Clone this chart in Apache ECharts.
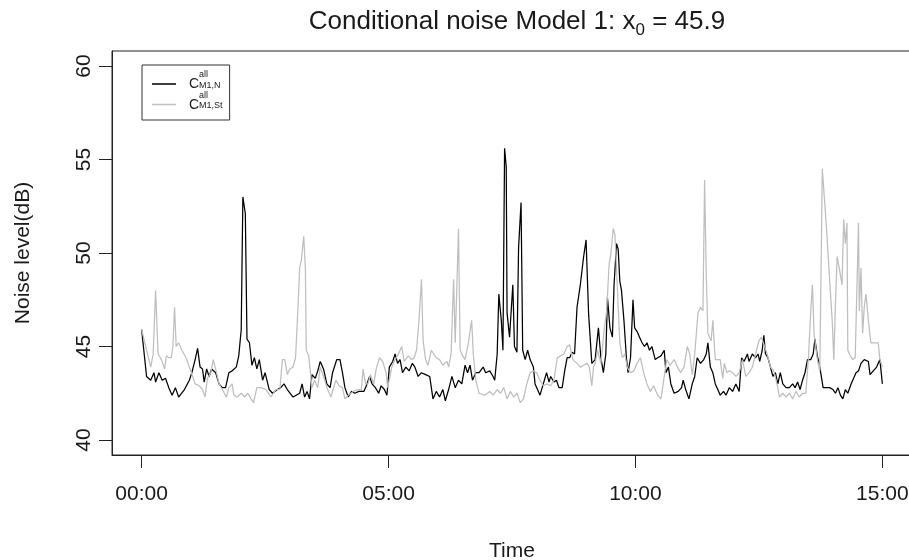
<!DOCTYPE html>
<html><head><meta charset="utf-8">
<script src="https://cdn.jsdelivr.net/npm/echarts@6/dist/echarts.min.js"></script>
<style>html,body{margin:0;padding:0;background:#fff}#c{width:909px;height:560px}</style>
</head><body><div id="c"></div>
<script>
// time in minutes since 00:00
const nTime = [0,6,11,15,17,21,25,29,33,37,
41,45,52,58,61,65,68,71,74,76,
79,82,85,90,94,98,102,106,110,115,
118,121,123,126,128,131,134,137,140,143,
147,150,155,159,165,169,173,177,184,192,
195,198,201,204,207,211,214,217,221,225,
229,232,237,241,244,247,251,255,259,264,
270,273,277,280,284,288,291,295,298,301,
305,308,311,314,317,321,325,329,332,336,
340,345,350,354,358,362,366,369,373,377,
381,385,389,393,396,399,402,406,410,415,
418,423,427,429,432,434,437,439,441,443,
444,447,451,453,456,458,461,463,466,469,
472,476,478,481,484,488,492,495,497,501,
504,507,511,514,517,520,523,526,529,533,
537,540,543,547,551,555,558,561,564,566,
569,572,574,577,579,581,583,586,589,591,
594,597,599,602,605,608,611,614,617,620,
624,627,631,635,637,640,643,647,652,656,
658,661,665,669,672,675,679,683,686,688,
691,694,697,700,703,707,710,714,718,722,
726,729,732,736,738,742,746,749,751,754,
756,758,761,764,767,770,773,776,779,783,
787,791,794,797,800,803,806,809,813,816,
818,821,824,828,832,836,840,843,846,849,
852,855,858,862,866,868,871,874,878,883,
885,889,893,897,900];
const nLevel = [45.9,43.4,43.2,43.6,43.1,43.6,43.2,43.3,42.8,42.4,
42.8,42.3,42.7,43.2,43.6,44.3,44.9,43.9,43.8,43.1,
43.8,43.4,43.8,43.6,43.0,42.8,42.8,43.6,43.7,43.9,
44.5,45.9,53.0,52.1,45.4,45.2,44.0,44.4,43.8,44.3,
43.2,43.6,42.7,42.5,42.7,42.8,43.0,42.7,42.3,42.5,
43.0,42.3,42.6,42.2,43.5,43.3,43.7,44.2,43.8,43.0,
42.8,43.6,44.3,44.3,43.6,42.8,42.3,42.6,42.5,42.6,
42.6,42.9,43.4,43.0,42.8,42.5,42.9,42.7,42.4,43.9,
44.2,44.6,44.1,44.3,43.6,43.9,43.7,44.1,43.9,43.4,
43.6,43.5,43.4,42.2,42.6,42.3,42.7,42.1,42.7,43.4,
42.8,43.2,43.0,44.0,43.6,44.0,43.2,43.6,43.6,43.9,
43.6,43.7,43.4,43.2,44.6,47.8,46.4,44.8,55.6,54.6,
46.8,45.5,48.3,45.0,44.7,50.3,52.7,44.8,44.3,44.8,
44.3,43.9,43.0,42.7,42.4,43.0,43.6,43.1,43.4,43.1,
43.2,42.8,42.8,43.7,44.4,44.4,44.7,44.6,47.1,48.3,
49.8,50.7,46.8,44.1,44.3,46.0,44.4,43.6,44.6,47.6,
46.0,45.5,48.3,50.5,50.2,48.5,48.0,46.4,44.4,43.6,
44.4,47.5,46.0,45.8,45.5,45.2,45.0,45.2,44.8,45.0,
44.3,44.4,44.5,44.8,43.6,43.9,43.0,42.5,42.6,42.8,
43.2,42.7,42.2,43.0,43.4,44.4,44.1,44.3,44.6,45.2,
43.9,43.6,43.0,42.7,42.4,42.6,42.4,42.8,42.6,43.0,
42.6,44.4,44.2,44.6,44.2,44.6,44.4,44.6,44.2,44.8,
45.6,44.6,44.4,43.9,43.4,43.6,43.0,43.6,43.0,42.8,
42.8,43.0,42.8,43.1,42.7,43.2,43.6,44.3,44.3,44.6,
45.4,44.5,43.9,42.8,42.8,42.8,42.7,42.5,42.8,42.4,
42.2,42.7,42.5,43.0,43.4,43.6,43.7,44.1,44.3,44.2,
43.5,43.7,43.9,44.3,43.0];
const stTime = [0,5,11,14,17,20,24,28,30,33,
36,38,40,42,45,49,54,58,62,65,
70,74,77,80,84,87,91,94,98,103,
106,110,112,116,121,125,129,133,136,140,
145,151,157,163,168,171,174,177,180,184,
187,190,192,194,197,199,200,203,205,207,
210,214,217,221,226,230,236,240,244,247,
251,257,263,267,269,272,275,278,282,285,
289,293,297,299,304,308,312,316,319,324,
328,331,334,337,340,342,345,348,352,354,
358,362,366,371,373,376,379,381,383,385,
387,390,393,397,401,403,406,410,417,423,
427,432,436,440,444,448,452,456,460,464,
468,472,476,480,484,488,492,497,501,505,
509,513,517,520,524,529,533,537,541,544,
547,549,551,554,558,562,565,568,570,573,
575,577,579,581,584,587,590,594,598,602,
606,610,614,618,622,627,631,635,638,642,
647,651,655,659,663,666,669,672,676,679,
682,684,686,688,692,694,697,700,703,706,
708,711,714,718,722,726,730,734,738,742,
746,750,753,757,760,764,768,772,775,779,
783,787,791,795,799,803,807,810,813,815,
817,821,824,827,829,832,836,839,841,843,
845,848,851,853,855,857,858,861,864,867,
869,871,872,874,876,878,880,883,886,891,
895,897,900];
const stLevel = [45.9,45.0,43.9,44.6,48.0,44.6,44.3,43.8,44.5,44.4,
44.4,45.0,47.1,45.0,45.2,44.8,44.4,43.9,43.4,43.0,
42.9,42.7,42.3,43.3,43.6,44.3,43.6,43.0,42.7,42.3,
42.8,43.0,42.4,42.3,42.5,42.3,42.5,42.2,42.0,42.8,
42.8,42.7,42.3,42.7,42.7,44.3,44.3,43.5,43.8,43.9,
44.4,47.1,49.2,49.6,50.9,49.1,44.8,44.5,44.4,42.8,
43.2,42.8,43.9,43.4,42.7,42.3,43.2,42.9,42.8,42.2,
42.4,42.6,42.7,42.7,43.8,43.0,43.0,43.5,43.0,43.8,
44.4,44.2,43.6,42.8,43.9,44.3,44.6,45.0,44.2,44.5,
44.3,44.4,44.8,46.4,48.6,45.3,44.3,44.0,44.8,44.8,
44.4,44.3,44.0,44.2,43.9,44.6,48.6,45.2,45.2,51.3,
44.8,44.5,44.3,45.2,46.4,44.6,43.2,42.5,42.4,42.6,
42.4,42.7,42.5,42.8,42.2,42.6,42.3,42.5,42.0,42.2,
43.0,43.6,43.7,43.6,43.2,42.9,43.0,42.9,43.2,44.4,
44.5,44.6,45.0,45.1,44.3,44.1,43.9,44.0,44.1,43.9,
42.9,43.9,44.1,44.8,44.1,45.9,46.9,49.4,49.9,51.3,
51.0,49.2,47.1,45.2,44.4,44.6,43.9,43.6,43.7,44.1,
44.4,43.6,43.0,42.6,42.9,42.4,42.2,43.4,44.3,44.0,
44.3,43.9,43.6,43.9,45.0,44.6,43.5,44.6,46.8,47.1,
46.9,53.9,48.9,45.7,45.3,46.4,44.3,44.3,44.3,43.3,
44.1,43.6,43.7,43.6,43.4,43.6,44.3,43.4,43.6,43.9,
44.6,45.3,45.5,45.0,44.6,43.9,43.7,43.0,42.3,42.5,
42.3,42.5,42.2,42.6,42.3,42.5,42.5,44.3,46.9,48.3,
45.7,44.3,43.7,54.5,54.5,51.4,48.5,46.4,44.3,47.3,
49.8,49.1,48.3,51.8,50.5,51.6,44.8,44.5,44.3,44.4,
44.3,51.6,46.9,49.2,45.7,47.1,47.8,46.4,45.2,45.2,
45.2,44.3,43.9];
const xTicks = [0, 300, 600, 900];
const yTicks = [40, 45, 50, 55, 60];

const font = '"Liberation Sans", Arial, Helvetica, sans-serif';
const ink = '#1a1a1a';
function hhmm(m){ const h = Math.floor(m/60), mm = m % 60; return String(h).padStart(2,'0') + ':' + String(mm).padStart(2,'0'); }
const nData = nTime.map((t,i)=>[t, nLevel[i]]);
const stData = stTime.map((t,i)=>[t, stLevel[i]]);

const chart = echarts.init(document.getElementById('c'), null, {renderer:'canvas'});
chart.setOption({
  animation: false,
  backgroundColor: '#fff',
  textStyle: {fontFamily: font},
  title: {
    text: '{a|Conditional noise Model 1: x}{s|0}{a| = 45.9}',
    left: 512, textAlign: 'center', top: 0,
    textStyle: {fontWeight: 'normal', rich: {
      a: {fontSize: 26, fontWeight: 'normal', fontFamily: font, color: ink, lineHeight: 34},
      s: {fontSize: 17, fontWeight: 'normal', fontFamily: font, color: ink, lineHeight: 17, verticalAlign: 'bottom'}
    }}
  },
  legend: {
    data: ['N', 'St'],
    orient: 'vertical',
    left: 142, top: 65,
    icon: 'path://M0,0L0.001,0L0,0.001Z M0,7L24,7L24,8.5L0,8.5Z',
    itemWidth: 24, itemHeight: 8.5, itemGap: -3,
    borderColor: '#333', borderWidth: 1, borderRadius: 0,
    padding: [3, 7, 8, 10],
    formatter: function(name){
      return name === 'N' ? '{h|C}{sup|all}\n{c|C}{sub|M1,N}' : '{h|C}{sup|all}\n{c|C}{sub|M1,St}';
    },
    textStyle: {rich: {
      h: {fontSize: 14, lineHeight: 8, color: 'rgba(0,0,0,0)', fontFamily: font, padding: [0,0,0,8]},
      sup: {fontSize: 9, lineHeight: 8, color: ink, fontFamily: font},
      c: {fontSize: 14, lineHeight: 11, color: ink, fontFamily: font, padding: [0,0,0,8]},
      sub: {fontSize: 9, lineHeight: 11, color: ink, fontFamily: font, verticalAlign: 'bottom'}
    }}
  },
  grid: {left: 112, right: -3, top: 51, bottom: 105, show: true, borderColor: '#222', borderWidth: 1,
         outerBoundsMode: 'none', containLabel: false},
  xAxis: {
    type: 'value', min: -36, max: 936,
    axisLine: {show: true, onZero: false, lineStyle: {color: '#222'}},
    axisTick: {show: true, customValues: xTicks, length: 13, lineStyle: {color: '#222'}},
    axisLabel: {customValues: xTicks, formatter: hhmm, fontSize: 21, margin: 29, color: ink, fontFamily: font},
    splitLine: {show: false},
    name: 'Time', nameLocation: 'middle', nameGap: 86,
    nameTextStyle: {fontSize: 21, color: ink, fontFamily: font}
  },
  yAxis: {
    type: 'value', min: 39.2, max: 60.8,
    axisLine: {show: true, onZero: false, lineStyle: {color: '#222'}},
    axisTick: {show: true, customValues: yTicks, length: 13, lineStyle: {color: '#222'}},
    axisLabel: {customValues: yTicks, rotate: 90, fontSize: 21, margin: 17, color: ink, fontFamily: font},
    splitLine: {show: false},
    name: 'Noise level(dB)', nameLocation: 'middle', nameGap: 78, nameRotate: 90,
    nameTextStyle: {fontSize: 21, color: ink, fontFamily: font}
  },
  series: [
    {name: 'N', type: 'line', data: nData, symbol: 'none', color: '#000',
     lineStyle: {color: '#000', width: 1.25}, silent: true, emphasis: {disabled: true}},
    {name: 'St', type: 'line', data: stData, symbol: 'none', color: '#bebebe',
     lineStyle: {color: '#bebebe', width: 1.25}, silent: true, emphasis: {disabled: true}}
  ]
});
</script>
</body></html>
